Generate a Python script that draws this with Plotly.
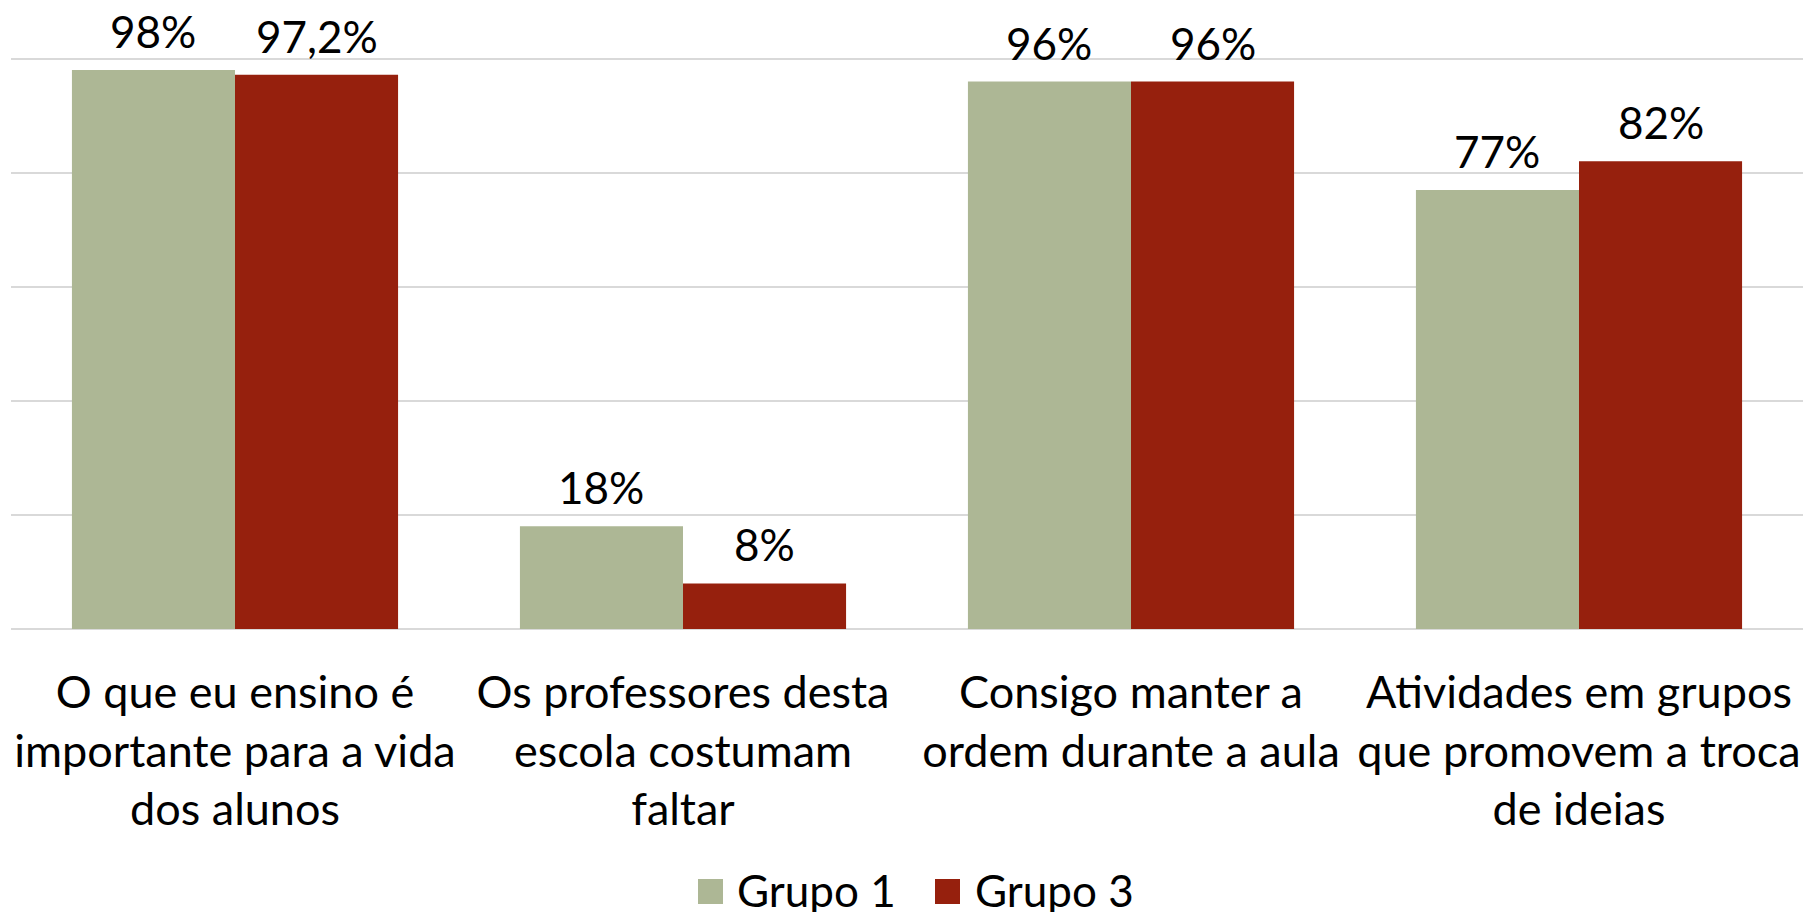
import plotly.graph_objects as go

categories = [
    "O que eu ensino é<br>importante para a vida<br>dos alunos",
    "Os professores desta<br>escola costumam<br>faltar",
    "Consigo manter a<br>ordem durante a aula",
    "Atividades em grupos<br>que promovem a troca<br>de ideias",
]
series_names = ["Grupo 1", "Grupo 3"]
grupo1 = [98, 18, 96, 77]
grupo3 = [97.2, 8, 96, 82]
labels1 = ["98%", "18%", "96%", "77%"]
labels3 = ["97,2%", "8%", "96%", "82%"]
colors = ["#ADB795", "#96200D"]

W, H = 1806, 912
ML, MR, MT, MB = 11, 3, 57, 283
PW = W - ML - MR
PH = H - MT - MB
YMAX = 100.3
FONT = "Lato"
FS = 45

fig = go.Figure()
for name, vals, col in zip(series_names, [grupo1, grupo3], colors):
    fig.add_trace(go.Bar(x=categories, y=vals, name=name, marker_color=col,
                         marker_line_width=0, showlegend=False, hoverinfo="skip"))

bargap = 0.272
cat_px = PW / len(categories)
bar_px = cat_px * (1 - bargap) / 2
annotations = []
for vals, labs, sgn in [(grupo1, labels1, -1), (grupo3, labels3, 1)]:
    for c, v, t in zip(categories, vals, labs):
        annotations.append(dict(x=c, y=v, xref="x", yref="y", text=t, showarrow=False,
                                xshift=sgn * bar_px / 2, yshift=39, yanchor="middle",
                                font=dict(family=FONT, size=FS - 1, color="#000000")))

# manual legend (large square swatches)
def px_x(p):
    return (p - ML) / PW

def px_y(p):
    return (H - MB - p) / PH

shapes = []
leg_items = [(698, 735), (935, 973)]
for (sx, tx), name, col in zip(leg_items, series_names, colors):
    shapes.append(dict(type="rect", xref="paper", yref="paper",
                       x0=px_x(sx), x1=px_x(sx + 25), y0=px_y(904), y1=px_y(879),
                       fillcolor=col, line=dict(width=0)))
    annotations.append(dict(x=px_x(tx), y=px_y(890), xref="paper", yref="paper",
                            text=name, showarrow=False, xanchor="left", yanchor="middle",
                            font=dict(family=FONT, size=FS - 1, color="#000000")))

fig.update_layout(
    width=W, height=H,
    margin=dict(l=ML, r=MR, t=MT, b=MB),
    barmode="group", bargap=bargap, bargroupgap=0,
    plot_bgcolor="white", paper_bgcolor="white",
    font=dict(family=FONT, size=FS, color="#000000"),
    annotations=annotations, shapes=shapes,
    showlegend=False,
)
fig.update_xaxes(showgrid=False, showline=False, ticks="", ticklabelstandoff=33,
                 tickfont=dict(family=FONT, size=FS, color="#000000"))
fig.update_yaxes(range=[0, YMAX], tick0=0, dtick=20, showgrid=True, gridcolor="#D9D9D9", gridwidth=2,
                 zeroline=True, zerolinecolor="#D9D9D9", zerolinewidth=2,
                 showticklabels=False, showline=False)

fig.write_html("out.html", config={"displayModeBar": False},
               post_script="document.body.style.margin='0';")
